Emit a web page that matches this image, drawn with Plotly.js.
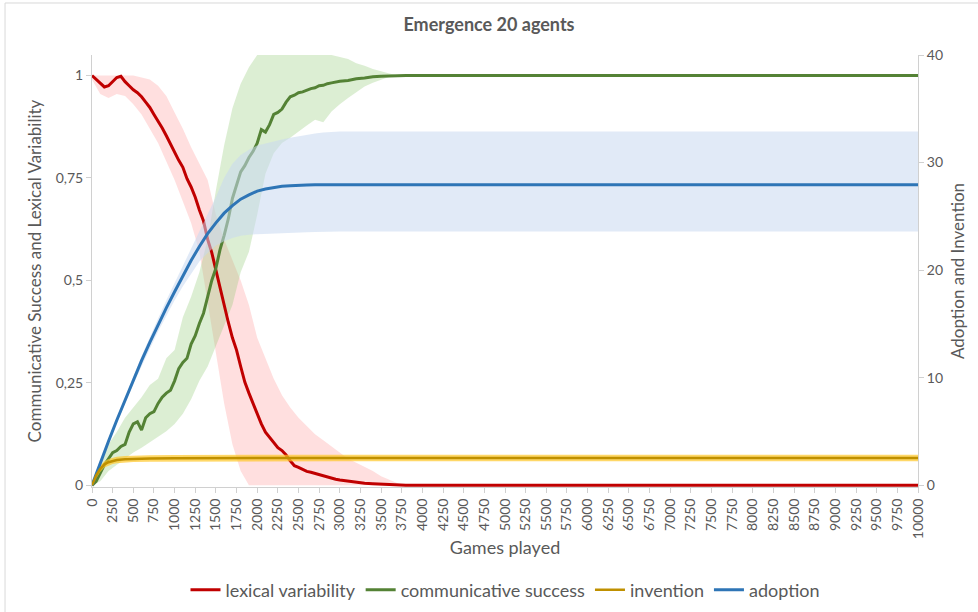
<!DOCTYPE html>
<html>
<head>
<meta charset="utf-8">
<script src="https://cdn.plot.ly/plotly-3.0.1.min.js"></script>
<style>
  html, body { margin: 0; padding: 0; background: #ffffff; }
  #chart { width: 978px; height: 612px; }
</style>
</head>
<body>
<div id="chart"></div>
<script>
// Games played (fine grid for the two noisy mean curves)
const gamesFine = [0,50,100,150,200,250,300,350,400,450,500,550,600,650,700,750,800,850,900,950,
  1000,1050,1100,1150,1200,1250,1300,1350,1400,1450,1500,1550,1600,1650,1700,1750,1800,1850,1900,1950,
  2000,2050,2100,2150,2200,2250,2300,2350,2400,2450,2500,2550,2600,2650,2700,2750,2800,2850,2900,2950,
  3000,3100,3200,3300,3400,3500,3600,3700,3800,10000];

// Lexical variability (mean over runs)
const lexicalMean = [1.0,0.99,0.98,0.972,0.975,0.985,0.995,0.998,0.985,0.975,0.965,0.958,0.948,0.935,0.922,0.905,0.89,0.872,0.853,0.832,
  0.815,0.793,0.776,0.748,0.728,0.703,0.672,0.645,0.6,0.568,0.525,0.48,0.44,0.398,0.36,0.33,0.29,0.252,0.225,0.2,
  0.175,0.15,0.13,0.118,0.105,0.092,0.085,0.074,0.06,0.048,0.044,0.038,0.034,0.032,0.029,0.026,0.024,0.02,0.018,0.015,
  0.013,0.01,0.007,0.005,0.004,0.003,0.002,0.001,0,0];

// Communicative success (mean over runs)
const successMean = [0,0.01,0.03,0.05,0.065,0.08,0.085,0.095,0.1,0.13,0.15,0.155,0.135,0.165,0.175,0.18,0.2,0.215,0.225,0.232,
  0.255,0.285,0.3,0.31,0.345,0.365,0.395,0.42,0.46,0.5,0.53,0.575,0.61,0.65,0.7,0.735,0.765,0.78,0.8,0.815,
  0.835,0.868,0.862,0.88,0.905,0.91,0.918,0.935,0.948,0.952,0.958,0.96,0.965,0.968,0.97,0.975,0.976,0.98,0.982,0.984,
  0.986,0.988,0.992,0.994,0.997,0.998,0.999,1,1,1];

// Games played for the spread bands of the left-axis measures
const gamesBand = [0,100,200,300,400,500,600,700,800,900,1000,1100,1200,1300,1400,1500,1600,1700,1800,1900,
  2000,2100,2200,2300,2400,2500,2600,2700,2800,2900,3000,3100,3200,3300,3400,3500,3600,3700,3800,10000];

const lexicalHigh = [1.0,1.0,1.0,1.0,1.0,1.0,0.995,0.99,0.975,0.95,0.91,0.87,0.825,0.785,0.745,0.66,0.6,0.55,0.5,0.44,
  0.36,0.31,0.26,0.22,0.19,0.165,0.145,0.125,0.11,0.095,0.08,0.065,0.055,0.045,0.035,0.022,0.013,0.005,0,0];
const lexicalLow = [0.99,0.955,0.945,0.955,0.95,0.93,0.905,0.87,0.835,0.79,0.745,0.695,0.64,0.57,0.44,0.32,0.2,0.1,0.035,0,
  0,0,0,0,0,0,0,0,0,0,0,0,0,0,0,0,0,0,0,0];

const successHigh = [0,0.06,0.1,0.13,0.165,0.19,0.215,0.245,0.26,0.31,0.33,0.41,0.46,0.52,0.6,0.72,0.83,0.92,0.98,1.02,
  1.05,1.07,1.08,1.08,1.08,1.075,1.07,1.065,1.058,1.05,1.045,1.04,1.03,1.024,1.016,1.01,1.005,1.0,1.0,1.0];
const successLow = [0,0.01,0.035,0.05,0.065,0.08,0.092,0.105,0.118,0.132,0.15,0.175,0.21,0.255,0.29,0.34,0.39,0.44,0.52,0.57,
  0.66,0.76,0.81,0.835,0.848,0.862,0.878,0.892,0.886,0.912,0.93,0.945,0.96,0.973,0.982,0.99,0.997,1.0,1.0,1.0];

// Adoption (right axis)
const gamesAdoption = [0,100,200,300,400,500,600,700,800,900,1000,1100,1200,1300,1400,1500,1600,1700,1800,1900,
  2000,2100,2200,2300,2400,2500,2600,2700,2800,2900,3000,10000];
const adoptionMean = [0,2.1,4.1,6.05,7.95,9.8,11.6,13.3,14.95,16.5,18.0,19.5,20.9,22.2,23.4,24.4,25.3,26.0,26.6,27.0,
  27.35,27.55,27.7,27.8,27.85,27.9,27.92,27.93,27.94,27.95,27.95,27.95];
const adoptionHigh = [0,2.15,4.2,6.2,8.2,10.1,12.0,13.8,15.5,17.2,18.8,20.4,22.0,23.6,25.2,26.8,28.6,29.9,30.7,31.2,
  31.6,31.8,32.0,32.15,32.3,32.45,32.6,32.7,32.8,32.85,32.9,32.9];
const adoptionLow = [0,2.05,3.95,5.85,7.6,9.4,11.1,12.7,14.3,15.8,17.2,18.5,19.7,20.8,21.6,22.3,22.7,23.0,23.2,23.3,
  23.35,23.4,23.42,23.45,23.47,23.5,23.52,23.55,23.57,23.6,23.6,23.6];

// Invention (right axis)
const gamesInvention = [0,50,100,150,200,250,300,400,500,700,1000,1500,2000,3000,10000];
const inventionMean = [0,0.9,1.55,1.95,2.15,2.28,2.35,2.42,2.46,2.5,2.52,2.54,2.55,2.55,2.55];
const inventionLow  = [0,0.6,1.25,1.65,1.85,1.98,2.05,2.12,2.16,2.2,2.22,2.24,2.25,2.25,2.25];
const inventionHigh = [0,1.2,1.85,2.25,2.45,2.58,2.65,2.72,2.76,2.8,2.82,2.84,2.85,2.85,2.85];

const seriesNames = ['lexical variability', 'communicative success', 'invention', 'adoption'];
const xTicks = { start: 0, end: 10000, step: 250 };

const FONT = 'Lato, "Open Sans", sans-serif';
const GREY = '#595959';
const AXIS = '#d0d0d0';

// a small margin below zero keeps the zero-valued lines fully visible over the axis
const leftRange = [-0.004, 1.05];
const rightRange = [leftRange[0] * 40 / leftRange[1], 40];

function band(x, low, high, axis, fill) {
  return {
    x: x.concat(x.slice().reverse()),
    y: high.concat(low.slice().reverse()),
    yaxis: axis, mode: 'lines', fill: 'toself', fillcolor: fill,
    line: { width: 0 }, showlegend: false, hoverinfo: 'skip'
  };
}

function curve(x, y, axis, name, color, width, rank) {
  return {
    x: x, y: y, yaxis: axis, name: name, mode: 'lines',
    line: { color: color, width: width }, legendrank: rank
  };
}

const traces = [
  band(gamesBand, lexicalLow, lexicalHigh, 'y', 'rgba(255,150,150,0.3)'),
  band(gamesBand, successLow, successHigh, 'y', 'rgba(140,200,110,0.3)'),
  curve(gamesFine, lexicalMean, 'y', seriesNames[0], '#c00000', 3, 1),
  curve(gamesFine, successMean, 'y', seriesNames[1], '#548235', 3, 2),
  band(gamesAdoption, adoptionLow, adoptionHigh, 'y2', 'rgba(200,216,240,0.55)'),
  band(gamesInvention, inventionLow, inventionHigh, 'y2', 'rgba(255,200,40,0.7)'),
  curve(gamesAdoption, adoptionMean, 'y2', seriesNames[3], '#2e75b6', 3, 4),
  curve(gamesInvention, inventionMean, 'y2', seriesNames[2], '#bf9000', 2.5, 3)
];

const axisStyle = {
  showgrid: false, zeroline: false, showline: true, linecolor: AXIS, linewidth: 1,
  ticks: 'outside', ticklen: 5, tickcolor: AXIS,
  tickfont: { family: FONT, size: 14, color: GREY }
};

const layout = {
  width: 978, height: 612,
  margin: { l: 92, r: 60, t: 55, b: 125 },
  paper_bgcolor: '#ffffff', plot_bgcolor: '#ffffff',
  separators: ', ',
  font: { family: FONT, color: GREY },
  title: {
    text: '<b>Emergence 20 agents</b>',
    font: { family: FONT, size: 18, color: GREY },
    x: 0.5, xanchor: 'center', y: 0.959, yanchor: 'middle', yref: 'container'
  },
  xaxis: Object.assign({}, axisStyle, {
    range: [xTicks.start, xTicks.end], tick0: xTicks.start, dtick: xTicks.step,
    tickangle: -90, tickformat: 'd',
    title: { text: 'Games played', font: { family: FONT, size: 18, color: GREY }, standoff: 3 }
  }),
  yaxis: Object.assign({}, axisStyle, {
    range: leftRange, tick0: 0, dtick: 0.25,
    title: { text: 'Communicative Success and Lexical Variability', font: { family: FONT, size: 17, color: GREY }, standoff: 9 }
  }),
  yaxis2: Object.assign({}, axisStyle, {
    overlaying: 'y', side: 'right', range: rightRange, tick0: 0, dtick: 10,
    title: { text: 'Adoption and Invention', font: { family: FONT, size: 17, color: GREY }, standoff: 10 }
  }),
  showlegend: true,
  legend: {
    orientation: 'h', x: 0.5, xanchor: 'center', xref: 'paper',
    y: 0.036, yanchor: 'middle', yref: 'container',
    font: { family: FONT, size: 18, color: GREY },
    itemwidth: 30, traceorder: 'normal'
  },
  shapes: [{
    type: 'rect', xref: 'paper', yref: 'paper',
    x0: -0.1053, x1: 1.09, y0: -0.31, y1: 1.1204,
    line: { color: '#d9d9d9', width: 1 }, fillcolor: 'rgba(0,0,0,0)', layer: 'below'
  }]
};

Plotly.newPlot('chart', traces, layout, { displayModeBar: false, staticPlot: true });
</script>
</body>
</html>
